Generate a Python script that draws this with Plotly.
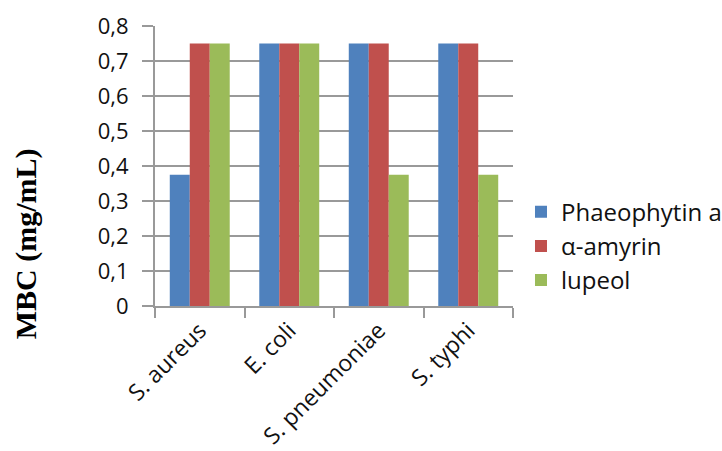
import plotly.graph_objects as go

# Bacterial strains on the x axis
strains = ["S. aureus", "E. coli", "S. pneumoniae", "S. typhi"]

# Minimum bactericidal concentration (mg/mL) per compound
phaeophytin_a = [0.375, 0.75, 0.75, 0.75]
alpha_amyrin = [0.75, 0.75, 0.75, 0.75]
lupeol = [0.75, 0.75, 0.375, 0.375]

series = [
    ("Phaeophytin a", phaeophytin_a, "#4F81BD"),
    ("α-amyrin", alpha_amyrin, "#C0504D"),
    ("lupeol", lupeol, "#9BBB59"),
]

fig = go.Figure()
for name, vals, color in series:
    fig.add_trace(go.Bar(x=strains, y=vals, name=name, marker_color=color,
                         marker_line_width=0))

axis_gray = "#999999"
sans = "Open Sans, Lato, sans-serif"

fig.update_layout(
    width=722, height=451,
    margin=dict(l=155, r=209, t=26, b=145, autoexpand=False),
    paper_bgcolor="white", plot_bgcolor="white",
    barmode="group", bargap=0.33, bargroupgap=0,
    separators=", ",
    font=dict(family=sans, size=23, color="#111111"),
    showlegend=True,
    legend=dict(xref="container", x=0.7216, xanchor="left",
                y=0.214, yanchor="middle",
                font=dict(family=sans, size=24, color="#111111"),
                itemsizing="constant", tracegroupgap=0, bgcolor="rgba(0,0,0,0)"),
    xaxis=dict(
        type="category", tickson="boundaries", tickangle=-45,
        showline=True, linecolor=axis_gray, linewidth=2,
        ticks="outside", ticklen=10, tickwidth=2, tickcolor=axis_gray,
        showgrid=False, tickfont=dict(family=sans, size=23, color="#111111"),
        automargin=False,
    ),
    yaxis=dict(
        range=[0, 0.8], dtick=0.1, tick0=0,
        showline=True, linecolor=axis_gray, linewidth=2,
        ticks="outside", ticklen=11, tickwidth=2, tickcolor=axis_gray,
        ticklabelstandoff=9,
        showgrid=True, gridcolor=axis_gray, gridwidth=2,
        zeroline=False, tickfont=dict(family=sans, size=22, color="#111111"),
        automargin=False,
    ),
    annotations=[dict(
        text="<b>MBC (mg/mL)</b>", textangle=-90, showarrow=False,
        xref="paper", yref="paper", x=-0.36, y=0.221,
        xanchor="center", yanchor="middle",
        font=dict(family="Liberation Serif, Times New Roman, serif",
                  size=30, color="black"),
    )],
)

fig.write_html("out.html")
